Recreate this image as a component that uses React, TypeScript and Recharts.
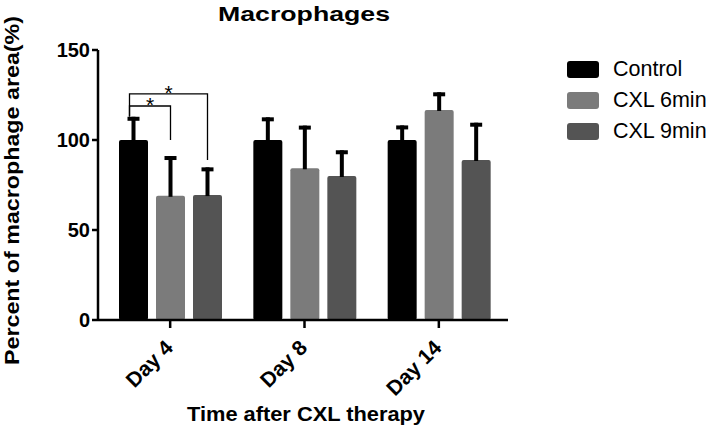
import React from 'react';
import { BarChart, Bar, XAxis, YAxis, Legend, Customized } from 'recharts';

const categories = ['Day 4', 'Day 8', 'Day 14'];
const controlMean = [100, 100, 100];
const controlErr = [12.9, 12.6, 8.1];
const cxl6Mean = [69, 84.3, 116.7];
const cxl6Err = [22.1, 23.7, 9.8];
const cxl9Mean = [69.4, 80, 88.9];
const cxl9Err = [15.4, 14.3, 20.7];
const yTicks = [0, 50, 100, 150];

const seriesNames = ['Control', 'CXL 6min', 'CXL 9min'];
const seriesColors = ['#000000', '#7b7b7b', '#545454'];

// significance brackets (Day 4)
const sigCategory = ['Day 4', 'Day 4'];
const sigFrom = [0, 0];
const sigTo = [1, 2];
const sigLevel = [118.9, 125.6];
const sigFromDrop = [113, 113];
const sigToDrop = [100, 88.9];
const sigLabel = ['*', '*'];

const titleText = 'Macrophages';
const xLabelText = 'Time after CXL therapy';
const yLabelText = 'Percent of macrophage area(%)';

const means = [controlMean, cxl6Mean, cxl9Mean];
const errs = [controlErr, cxl6Err, cxl9Err];

const data = categories.map((c, i) => ({
  day: c,
  s0: means[0][i], e0: errs[0][i],
  s1: means[1][i], e1: errs[1][i],
  s2: means[2][i], e2: errs[2][i],
}));

const FONT = '"Liberation Sans", Arial, Helvetica, sans-serif';

type Pos = { cx: number; base: number; ppu: number };
const registry: Record<string, Pos> = {};

const makeShape = (si: number) => (props: any) => {
  const { x, y, width, height, payload } = props;
  const value = payload[`s${si}`];
  const err = payload[`e${si}`];
  const ppu = value ? height / value : 0;
  const base = y + height;
  const cx = x + width / 2;
  registry[`${si}|${payload.day}`] = { cx, base, ppu };
  const errTop = y - err * ppu;
  const brackets: React.ReactNode[] = [];
  if (si === seriesNames.length - 1) {
    sigCategory.forEach((cat, k) => {
      if (cat !== payload.day) return;
      const a = registry[`${sigFrom[k]}|${cat}`];
      const b = registry[`${sigTo[k]}|${cat}`];
      if (!a || !b) return;
      const yl = base - sigLevel[k] * ppu;
      const ya = base - sigFromDrop[k] * ppu;
      const yb = base - sigToDrop[k] * ppu;
      const ax = a.cx - 4;
      brackets.push(
        <g key={k}>
          <path d={`M${ax},${ya}L${ax},${yl}L${b.cx},${yl}L${b.cx},${yb}`} fill="none" stroke="#000" strokeWidth={1.3} />
          <text x={(ax + b.cx) / 2} y={yl + 6} textAnchor="middle" fontSize={21} fontFamily={FONT} fill="#000">{sigLabel[k]}</text>
        </g>
      );
    });
  }
  return (
    <g>
      <rect x={x} y={y} width={width} height={height} rx={2} ry={2} fill={seriesColors[si]} />
      <rect x={cx - 2} y={errTop} width={4} height={y - errTop + 1} fill="#000" />
      <rect x={cx - 6} y={errTop} width={12} height={4} fill="#000" />
      {brackets}
    </g>
  );
};

const DayTick = (props: any) => {
  const { x, y, payload } = props;
  const ax = x + 4;
  const ay = y + 19;
  return (
    <text x={ax} y={ay} transform={`rotate(-45, ${ax}, ${ay})`} textAnchor="end" fontSize={21} fontWeight="bold" fontFamily={FONT} fill="#000">
      {payload.value}
    </text>
  );
};

const Texts = () => (
  <g>
    <text x={304} y={21} textAnchor="middle" fontSize={21} fontWeight="bold" fontFamily={FONT} fill="#000" textLength={172} lengthAdjust="spacingAndGlyphs">{titleText}</text>
    <text x={306} y={421} textAnchor="middle" fontSize={20} fontWeight="bold" fontFamily={FONT} fill="#000" textLength={238} lengthAdjust="spacingAndGlyphs">{xLabelText}</text>
    <text x={19} y={190.5} transform="rotate(-90, 19, 190.5)" textAnchor="middle" fontSize={21} fontWeight="bold" fontFamily={FONT} fill="#000" textLength={349} lengthAdjust="spacingAndGlyphs">{yLabelText}</text>
  </g>
);

const LegendContent = () => (
  <div style={{ fontFamily: FONT }}>
    {seriesNames.map((name, i) => (
      <div key={name} style={{ display: 'flex', alignItems: 'center', height: 31 }}>
        <div style={{ width: 32, height: 17, borderRadius: 3, background: seriesColors[i] }} />
        <span style={{ marginLeft: 14, fontSize: 21.5, color: '#000', whiteSpace: 'nowrap' }}>{name}</span>
      </div>
    ))}
  </div>
);

export default function App() {
  return (
    <div style={{ position: 'absolute', left: 0, top: 0, width: 709, height: 428, background: '#fff' }}>
      <BarChart width={709} height={428} data={data} margin={{ top: 50, right: 201, bottom: 48, left: 0 }} barGap={8} barCategoryGap={16}>
        <XAxis
          dataKey="day"
          height={60}
          padding={{ left: 5, right: 2 }}
          axisLine={{ stroke: '#000', strokeWidth: 2.5 }}
          tickLine={{ stroke: '#000', strokeWidth: 2.5 }}
          tickSize={8}
          tick={<DayTick />}
          interval={0}
        />
        <YAxis
          width={98}
          domain={[0, 150]}
          ticks={yTicks}
          axisLine={{ stroke: '#000', strokeWidth: 2.5 }}
          tickLine={{ stroke: '#000', strokeWidth: 2.5 }}
          tickSize={6}
          tick={{ fontSize: 20, fontWeight: 'bold', fill: '#000', fontFamily: FONT }}
          allowDataOverflow
        />
        <Legend
          layout="vertical"
          align="center"
          verticalAlign="middle"
          content={<LegendContent />}
          wrapperStyle={{ left: 567, top: 54, width: 140 }}
        />
        <Bar dataKey="s0" name={seriesNames[0]} fill={seriesColors[0]} shape={makeShape(0)} isAnimationActive={false} />
        <Bar dataKey="s1" name={seriesNames[1]} fill={seriesColors[1]} shape={makeShape(1)} isAnimationActive={false} />
        <Bar dataKey="s2" name={seriesNames[2]} fill={seriesColors[2]} shape={makeShape(2)} isAnimationActive={false} />
        <Customized component={<Texts />} />
      </BarChart>
    </div>
  );
}
